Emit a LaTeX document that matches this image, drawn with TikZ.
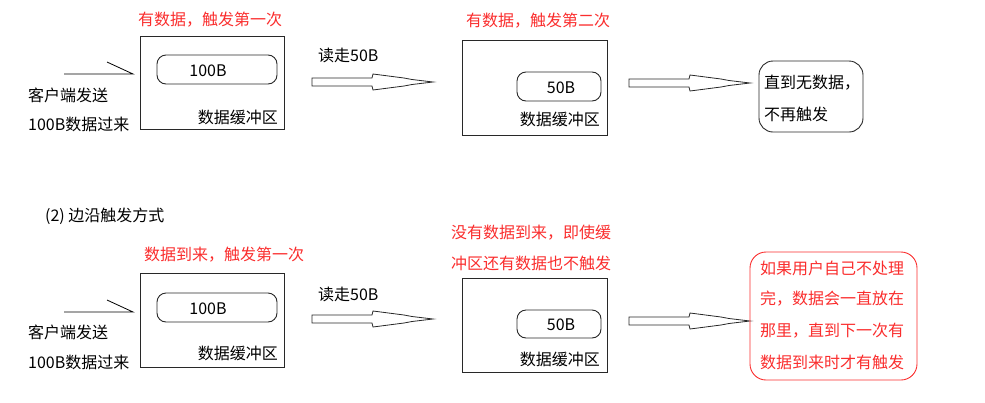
\documentclass[tikz,border=0pt]{standalone}
\usepackage{fontspec}
\setmainfont{Noto Sans CJK SC}
\definecolor{tred}{RGB}{250,45,45}
\definecolor{bgray}{RGB}{40,40,40}
\tikzset{
  txt/.style={inner sep=0pt, font=\fontsize{16}{19}\selectfont, text=black},
  redtxt/.style={txt, text=tred},
  bufbox/.style={draw=bgray, line width=0.9pt},
  pillbox/.style={draw=bgray, line width=0.9pt, rounded corners=9pt},
  notebox/.style={draw=bgray, line width=0.9pt, rounded corners=14pt},
  rednote/.style={draw=tred, line width=0.9pt, rounded corners=16pt},
  thin/.style={line width=0.8pt, draw=black},
  hollowarrow/.pic={
    \draw[line width=0.8pt, draw=bgray, line join=miter]
      (0,-4) -- (60,-4) -- (61,-8) -- (92,-4) -- (100,-2.5) -- (121,0)
      -- (100,2.5) -- (92,4) -- (61,8) -- (60,4) -- (0,4) -- cycle;
  }
}
\begin{document}
\begin{tikzpicture}[x=1pt,y=-1pt]
\useasboundingbox (0,0) rectangle (985,402);

% ---------- top row ----------
\node[redtxt] (r1) at (210,20) {有数据，触发第一次};
\draw[bufbox] (140,36) rectangle (284,129);
\draw[pillbox] (157,55) rectangle (277,84);
\node[txt] (p1) at (208,71) {100B};
\node[txt, anchor=east] (l1) at (278,117) {数据缓冲区};
\coordinate (s1) at (64,74);
\draw[thin] (s1) -- ++(69,0) -- ++(-26,-12);
\node[txt, anchor=west] (c1) at (28,95) {客户端发送};
\node[txt, anchor=west] (c2) at (28,124) {100B数据过来};
\node[txt, anchor=west] (rd1) at (318,55) {读走50B};
\coordinate (a1) at (312,82);
\pic at (a1) {hollowarrow};

\node[redtxt] (r2) at (538,21) {有数据，触发第二次};
\draw[bufbox] (462,40) rectangle (607,135);
\draw[pillbox] (517,72) rectangle (601,101);
\node[txt] (p2) at (561,88) {50B};
\node[txt, anchor=east] (l2) at (600,119) {数据缓冲区};
\coordinate (a2) at (629,83);
\pic at (a2) {hollowarrow};
\draw[notebox] (759,61) rectangle (863,132);
\node[txt, anchor=west] (n1) at (764,83) {直到无数据，};
\node[txt, anchor=west] (n2) at (764,114) {不再触发};

% ---------- bottom row ----------
\node[txt, anchor=west] (h2) at (45,216) {(2) 边沿触发方式};
\node[redtxt] (r3) at (224,255) {数据到来，触发第一次};
\draw[bufbox] (140,273) rectangle (284,367);
\draw[pillbox] (157,293) rectangle (277,322);
\node[txt] (p3) at (208,309) {100B};
\node[txt, anchor=east] (l3) at (278,353) {数据缓冲区};
\coordinate (s2) at (64,312);
\draw[thin] (s2) -- ++(69,0) -- ++(-26,-12);
\node[txt, anchor=west] (c3) at (28,332) {客户端发送};
\node[txt, anchor=west] (c4) at (28,362) {100B数据过来};
\node[txt, anchor=west] (rd2) at (318,294) {读走50B};
\coordinate (a3) at (312,319);
\pic at (a3) {hollowarrow};

\node[redtxt, anchor=west] (r4) at (451,233) {没有数据到来，即使缓};
\node[redtxt, anchor=west] (r5) at (451,263) {冲区还有数据也不触发};
\draw[bufbox] (462,278) rectangle (607,372);
\draw[pillbox] (517,310) rectangle (601,338);
\node[txt] (p4) at (561,325) {50B};
\node[txt, anchor=east] (l4) at (600,359) {数据缓冲区};
\coordinate (a4) at (629,321);
\pic at (a4) {hollowarrow};
\draw[rednote] (750,252) rectangle (917,380);
\node[redtxt, anchor=west] (m1) at (760,268) {如果用户自己不处理};
\node[redtxt, anchor=west] (m2) at (760,299) {完，数据会一直放在};
\node[redtxt, anchor=west] (m3) at (760,331) {那里，直到下一次有};
\node[redtxt, anchor=west] (m4) at (760,362) {数据到来时才有触发};
\end{tikzpicture}
\end{document}
